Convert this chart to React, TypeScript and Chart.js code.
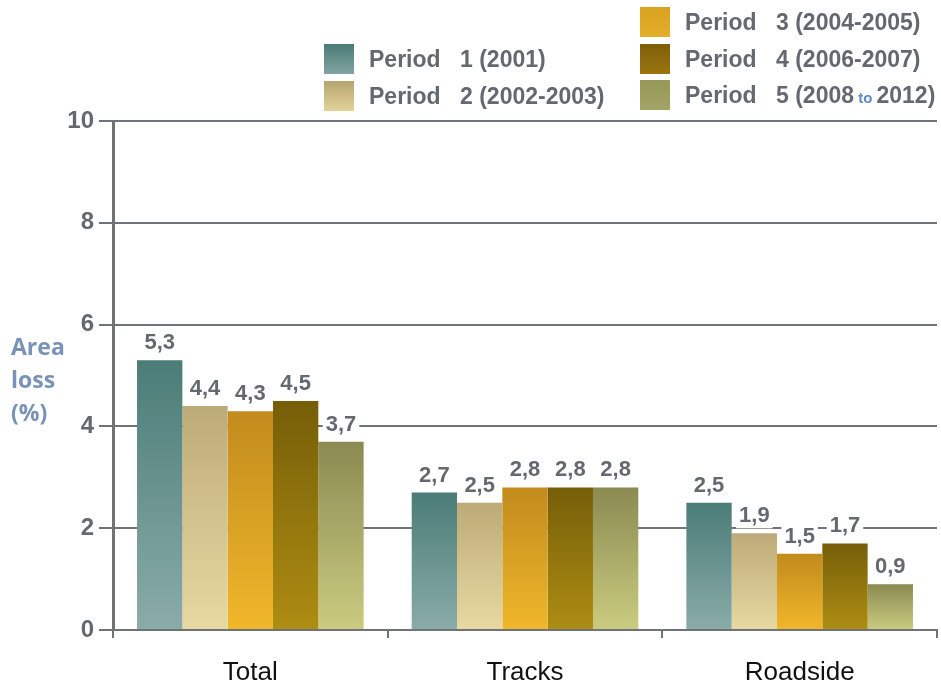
import React, { useEffect, useRef } from 'react';
import { Chart, registerables } from 'chart.js';

Chart.register(...registerables);

// Categories along the x axis
const categories = ['Total', 'Tracks', 'Roadside'];

// Area loss (%) per period, in category order
const period1 = [5.3, 2.7, 2.5];
const period2 = [4.4, 2.5, 1.9];
const period3 = [4.3, 2.8, 1.5];
const period4 = [4.5, 2.8, 1.7];
const period5 = [3.7, 2.8, 0.9];

// Legend text per period
const periodLabels = [
  'Period 1 (2001)',
  'Period 2 (2002-2003)',
  'Period 3 (2004-2005)',
  'Period 4 (2006-2007)',
  'Period 5 (2008 to 2012)',
];

// Y axis
const yMin = 0;
const yMax = 10;
const yStep = 2;
const yTitleLines = ['Area', 'loss', '(%)'];

// Vertical gradient per period: [top, bottom]
const periodShades: [string, string][] = [
  ['#4b7c77', '#8aaca9'],
  ['#bcab78', '#e8d9a2'],
  ['#c28b1c', '#f0b72b'],
  ['#765e08', '#ae8d13'],
  ['#8a8a52', '#cbcc80'],
];
const legendShades: [string, string][] = [
  ['#4a7b77', '#82a5a2'],
  ['#b5a46f', '#e3d39b'],
  ['#d9a21f', '#e2ae2c'],
  ['#7e600a', '#9a740f'],
  ['#969858', '#a3a566'],
];

const GRID = '#6f7378';
const TEXT = '#646970';
const TITLE_BLUE = '#7893b7';

const seriesValues = [period1, period2, period3, period4, period5];

const fmt = (v: number) => v.toFixed(1).replace('.', ',');

function barGradient(shade: [string, string]) {
  return (ctx: any) => {
    const chart = ctx.chart;
    if (!chart.chartArea || ctx.type !== 'data') return shade[1];
    const y = chart.scales.y;
    const top = y.getPixelForValue(ctx.raw as number);
    const bottom = y.getPixelForValue(0);
    const g = chart.ctx.createLinearGradient(0, top, 0, bottom);
    g.addColorStop(0, shade[0]);
    g.addColorStop(1, shade[1]);
    return g;
  };
}

// Value labels above each bar, on a white patch that hides the grid behind
const valueLabels = {
  id: 'valueLabels',
  afterDatasetsDraw(chart: any) {
    const ctx = chart.ctx;
    ctx.save();
    ctx.font = 'bold 22px "Liberation Sans", Arial, sans-serif';
    const items: { x: number; y: number; t: string; w: number }[] = [];
    chart.data.datasets.forEach((ds: any, di: number) => {
      const meta = chart.getDatasetMeta(di);
      meta.data.forEach((bar: any, i: number) => {
        const t = fmt(ds.data[i]);
        const w = ctx.measureText(t).width;
        items.push({ x: bar.x, y: bar.y - 11, t, w });
      });
    });
    ctx.fillStyle = '#ffffff';
    items.forEach((it) => {
      ctx.fillRect(it.x - it.w / 2 - 3, it.y - 19, it.w + 6, 25);
    });
    ctx.fillStyle = TEXT;
    ctx.textAlign = 'center';
    ctx.textBaseline = 'alphabetic';
    items.forEach((it) => ctx.fillText(it.t, it.x, it.y));
    ctx.restore();
  },
};

// Two-column legend at the top right and the stacked y-axis title
const sideText = {
  id: 'sideText',
  afterDraw(chart: any) {
    const ctx = chart.ctx;
    ctx.save();
    const slots = [
      { x: 324, y: 44 },
      { x: 324, y: 81 },
      { x: 640, y: 7 },
      { x: 640, y: 44 },
      { x: 640, y: 80 },
    ];
    const big = 'bold 23px "Liberation Sans", Arial, sans-serif';
    const small = 'bold 15px "Liberation Sans", Arial, sans-serif';
    chart.data.datasets.forEach((ds: any, i: number) => {
      const s = slots[i];
      const sh = legendShades[i];
      const g = ctx.createLinearGradient(0, s.y, 0, s.y + 30);
      g.addColorStop(0, sh[0]);
      g.addColorStop(1, sh[1]);
      ctx.fillStyle = g;
      ctx.fillRect(s.x, s.y, 30, 30);

      const label: string = ds.label;
      const sp = label.indexOf(' ');
      const head = label.slice(0, sp);
      const rest = label.slice(sp + 1);
      const cy = s.y + 23;
      ctx.textBaseline = 'alphabetic';
      ctx.textAlign = 'left';
      ctx.fillStyle = TEXT;
      ctx.font = big;
      ctx.fillText(head, s.x + 45, cy);
      let x = s.x + 136;
      const words = rest.split(' ');
      words.forEach((word, wi) => {
        const isTo = word === 'to';
        ctx.font = isTo ? small : big;
        ctx.fillStyle = isTo ? '#5d8dc4' : TEXT;
        ctx.fillText(word, x, cy);
        x += ctx.measureText(word).width;
        if (wi < words.length - 1) {
          const nearTo = isTo || words[wi + 1] === 'to';
          ctx.font = nearTo ? small : big;
          x += ctx.measureText(' ').width;
        }
      });
    });

    ctx.font = 'bold 23px "Open Sans", sans-serif';
    ctx.fillStyle = TITLE_BLUE;
    ctx.textAlign = 'left';
    ctx.textBaseline = 'alphabetic';
    yTitleLines.forEach((line, i) => ctx.fillText(line, 11, 355 + i * 33));
    ctx.restore();
  },
};

export default function App() {
  const ref = useRef<HTMLCanvasElement | null>(null);

  useEffect(() => {
    if (!ref.current) return;
    const chart = new Chart(ref.current, {
      type: 'bar',
      data: {
        labels: categories,
        datasets: seriesValues.map((vals, i) => ({
          label: periodLabels[i],
          data: vals,
          backgroundColor: barGradient(periodShades[i]),
          borderWidth: 0,
          categoryPercentage: 0.825,
          barPercentage: 1,
        })),
      },
      options: {
        animation: false,
        responsive: true,
        maintainAspectRatio: false,
        layout: { padding: { top: 121, right: 4, left: 0, bottom: 0 } },
        plugins: {
          legend: { display: false },
          tooltip: { enabled: false },
          title: { display: false },
        },
        scales: {
          x: {
            offset: true,
            grid: {
              offset: true,
              drawOnChartArea: true,
              color: (c: any) => (c.index === categories.length ? GRID : 'rgba(0,0,0,0)'),
              tickColor: GRID,
              lineWidth: 2,
              tickLength: 8,
            },
            border: { display: true, color: GRID, width: 2 },
            ticks: {
              color: '#111111',
              font: { family: '"Liberation Sans", Arial, sans-serif', size: 26 },
              padding: 19,
              maxRotation: 0,
            },
            afterFit: (s: any) => {
              s.height = 56;
            },
          },
          y: {
            min: yMin,
            max: yMax,
            ticks: {
              stepSize: yStep,
              color: TEXT,
              font: { family: '"Liberation Sans", Arial, sans-serif', size: 24, weight: 'bold' },
              padding: 5,
            },
            grid: { color: GRID, lineWidth: 2, tickLength: 14 },
            border: { display: true, color: GRID, width: 3 },
            afterFit: (s: any) => {
              s.width = 113;
            },
          },
        },
      },
      plugins: [valueLabels, sideText],
    });
    return () => chart.destroy();
  }, []);

  return (
    <div style={{ position: 'absolute', left: 0, top: 0, width: 941, height: 686, background: '#ffffff' }}>
      <canvas ref={ref} />
    </div>
  );
}
